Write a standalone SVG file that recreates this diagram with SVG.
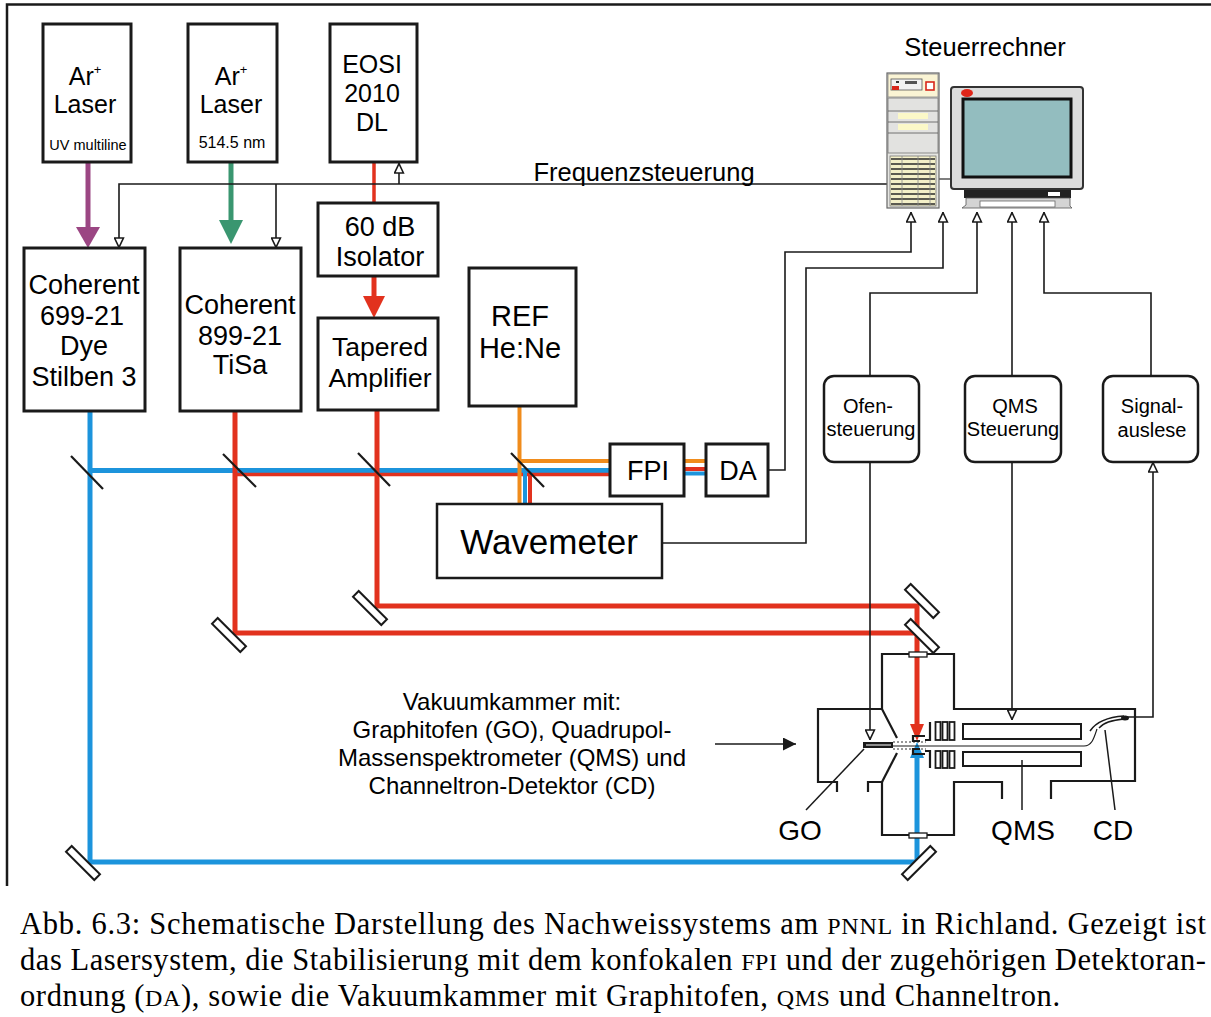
<svg xmlns="http://www.w3.org/2000/svg" width="1211" height="1017" viewBox="0 0 1211 1017">
  <style>
    .box { fill: #fff; stroke: #1a1a1a; stroke-width: 3; }
    .rbox { fill: #fff; stroke: #1a1a1a; stroke-width: 2.5; }
    .wire { fill: none; stroke: #1a1a1a; stroke-width: 1.6; }
    .sans { font-family: "Liberation Sans", Arial, sans-serif; fill: #000; text-anchor: middle; }
    .serif { font-family: "Liberation Serif", "Times New Roman", serif; fill: #000; font-size: 30.5px; }
    .sc { font-size: 24px; }
    .red { stroke: #e2321e; fill: none; }
    .blue { stroke: #1c94dc; fill: none; }
    .orange { stroke: #f08c1c; fill: none; }
    .mirror { fill: #fff; stroke: #1a1a1a; stroke-width: 2; }
    .split { stroke: #1a1a1a; stroke-width: 2.2; }
    .ch { fill: none; stroke: #1a1a1a; stroke-width: 2.2; }
  </style>
  <defs>
    <marker id="open" viewBox="0 0 10 10" refX="10" refY="5" markerWidth="11" markerHeight="11" markerUnits="userSpaceOnUse" orient="auto">
      <path d="M1,1 L9.5,5 L1,9 z" fill="#fff" stroke="#1a1a1a" stroke-width="1.4"/>
    </marker>
    <marker id="solid" viewBox="0 0 10 10" refX="10" refY="5" markerWidth="18" markerHeight="13" markerUnits="userSpaceOnUse" orient="auto">
      <path d="M0,0 L10,5 L0,10 z" fill="#1a1a1a"/>
    </marker>
  </defs>

  <!-- frame -->
  <path d="M7,886 V4.5 H1211" fill="none" stroke="#1a1a1a" stroke-width="2.5"/>

  <!-- laser beams -->
  <g id="beams">
    <!-- pump beams -->
    <line x1="88" y1="163" x2="88" y2="230" stroke="#9b4683" stroke-width="5"/>
    <polygon points="76,227 100,227 88,248" fill="#9b4683"/>
    <line x1="231" y1="163" x2="231" y2="222" stroke="#3a9670" stroke-width="5"/>
    <polygon points="219,220 243,220 231,244" fill="#3a9670"/>
    <line x1="374" y1="163" x2="374" y2="203" class="red" stroke-width="3.5"/>
    <line x1="374" y1="276" x2="374" y2="298" class="red" stroke-width="5"/>
    <polygon points="363,296 385,296 374,318" fill="#e2321e"/>

    <!-- dye laser (blue) -->
    <path d="M90,411 V862 H917 V758" class="blue" stroke-width="5"/>
    <polygon points="910,758 924,758 917,742" fill="#1c94dc"/>
    <line x1="90" y1="470.5" x2="610" y2="470.5" class="blue" stroke-width="5"/>

    <!-- TiSa (red) -->
    <path d="M235,411 V633 H917" class="red" stroke-width="5"/>
    <line x1="235" y1="474.5" x2="610" y2="474.5" class="red" stroke-width="3.5"/>

    <!-- tapered amplifier (red) -->
    <path d="M377,410 V606 H917 V725" class="red" stroke-width="5"/>
    <polygon points="910,724 924,724 917,741" fill="#e2321e"/>

    <!-- reference He:Ne (orange) -->
    <path d="M519.5,406 V504" class="orange" stroke-width="4"/>
    <line x1="519.5" y1="461" x2="610" y2="461" class="orange" stroke-width="4"/>
    <line x1="525" y1="470.5" x2="525" y2="504" class="blue" stroke-width="4"/>
    <line x1="530" y1="474.5" x2="530" y2="504" class="red" stroke-width="4"/>

    <!-- FPI to detector -->
    <line x1="684" y1="461" x2="706" y2="461" class="orange" stroke-width="4"/>
    <line x1="684" y1="469" x2="706" y2="469" class="red" stroke-width="4"/>
    <line x1="684" y1="473.5" x2="706" y2="473.5" class="blue" stroke-width="4"/>

    <!-- beam splitters -->
    <line x1="71" y1="456" x2="103" y2="489" class="split"/>
    <line x1="223" y1="454" x2="256" y2="487" class="split"/>
    <line x1="358" y1="453" x2="390" y2="486" class="split"/>
    <line x1="511" y1="453" x2="544" y2="487" class="split"/>

    <!-- mirrors -->
    <rect x="-20" y="-4" width="40" height="8" class="mirror" transform="translate(370,608) rotate(45)"/>
    <rect x="-20" y="-4" width="40" height="8" class="mirror" transform="translate(229,635) rotate(45)"/>
    <rect x="-20" y="-4" width="40" height="8" class="mirror" transform="translate(83,863) rotate(45)"/>
    <rect x="-20" y="-4" width="40" height="8" class="mirror" transform="translate(922,601) rotate(45)"/>
    <rect x="-20" y="-4" width="40" height="8" class="mirror" transform="translate(922,636) rotate(45)"/>
    <rect x="-20" y="-4" width="40" height="8" class="mirror" transform="translate(919,863) rotate(-45)"/>
  </g>

  <!-- signal and control wiring -->
  <g id="connectors">
    <path d="M887,184 H119 V248" class="wire" marker-end="url(#open)"/>
    <path d="M276,184 V248" class="wire" marker-end="url(#open)"/>
    <path d="M399,184 V163" class="wire" marker-end="url(#open)"/>
    <path d="M768,470 H785 V252 H911 V212" class="wire" marker-end="url(#open)"/>
    <path d="M662,543 H806 V268 H943 V212" class="wire" marker-end="url(#open)"/>
    <path d="M870,376 V293 H977 V212" class="wire" marker-end="url(#open)"/>
    <path d="M1012,376 V212" class="wire" marker-end="url(#open)"/>
    <path d="M1151,376 V293 H1044 V212" class="wire" marker-end="url(#open)"/>
    <path d="M870,462 V740" class="wire" marker-end="url(#open)"/>
    <path d="M1012,462 V720" class="wire" marker-end="url(#open)"/>
    <path d="M1124,717 H1153 V462" class="wire" marker-end="url(#open)"/>
    <path d="M715,744 H796" class="wire" stroke-width="2" marker-end="url(#solid)"/>
  </g>

  <!-- lasers and optics -->
  <g id="ar-uv">
    <rect x="43" y="24" width="88" height="138" class="box"/>
    <text x="85" y="85" class="sans" font-size="25">Ar<tspan dy="-11" font-size="13">+</tspan></text>
    <text x="85" y="113" class="sans" font-size="25">Laser</text>
    <text x="88" y="150" class="sans" font-size="14.5">UV multiline</text>
  </g>
  <g id="ar-green">
    <rect x="188" y="24" width="89" height="138" class="box"/>
    <text x="231" y="85" class="sans" font-size="25">Ar<tspan dy="-11" font-size="13">+</tspan></text>
    <text x="231" y="113" class="sans" font-size="25">Laser</text>
    <text x="232" y="148" class="sans" font-size="16">514.5 nm</text>
  </g>
  <g id="eosi">
    <rect x="330" y="24" width="87" height="138" class="box"/>
    <text x="372" y="73" class="sans" font-size="25">EOSI</text>
    <text x="372" y="102" class="sans" font-size="25">2010</text>
    <text x="372" y="131" class="sans" font-size="25">DL</text>
  </g>
  <g id="isolator">
    <rect x="318" y="203" width="120" height="73" class="box"/>
    <text x="380" y="236" class="sans" font-size="27">60 dB</text>
    <text x="380" y="266" class="sans" font-size="27">Isolator</text>
  </g>
  <g id="tapered">
    <rect x="318" y="318" width="120" height="92" class="box"/>
    <text x="380" y="356" class="sans" font-size="26.5">Tapered</text>
    <text x="380" y="387" class="sans" font-size="26.5">Amplifier</text>
  </g>
  <g id="dye">
    <rect x="24" y="248" width="121" height="163" class="box"/>
    <text x="84" y="294" class="sans" font-size="27">Coherent</text>
    <text x="82" y="325" class="sans" font-size="27">699-21</text>
    <text x="84" y="355" class="sans" font-size="27">Dye</text>
    <text x="84" y="386" class="sans" font-size="27">Stilben 3</text>
  </g>
  <g id="tisa">
    <rect x="180" y="248" width="121" height="163" class="box"/>
    <text x="240" y="314" class="sans" font-size="27">Coherent</text>
    <text x="240" y="345" class="sans" font-size="27">899-21</text>
    <text x="240" y="374" class="sans" font-size="27">TiSa</text>
  </g>
  <g id="ref">
    <rect x="469" y="268" width="107" height="138" class="box"/>
    <text x="520" y="326" class="sans" font-size="29">REF</text>
    <text x="520" y="358" class="sans" font-size="29">He:Ne</text>
  </g>
  <g id="fpi">
    <rect x="610" y="444" width="74" height="52" class="box"/>
    <text x="648" y="480" class="sans" font-size="27">FPI</text>
  </g>
  <g id="da">
    <rect x="706" y="444" width="62" height="52" class="box"/>
    <text x="738" y="480" class="sans" font-size="27">DA</text>
  </g>
  <g id="wavemeter">
    <rect x="437" y="504" width="225" height="74" class="rbox" stroke-width="2"/>
    <text x="549" y="554" class="sans" font-size="35">Wavemeter</text>
  </g>

  <!-- control units -->
  <g id="ofen">
    <rect x="824" y="376" width="95" height="86" rx="10" class="rbox"/>
    <text x="868" y="413" class="sans" font-size="20">Ofen-</text>
    <text x="871" y="436" class="sans" font-size="20">steuerung</text>
  </g>
  <g id="qms-ctrl">
    <rect x="965" y="376" width="96" height="86" rx="10" class="rbox"/>
    <text x="1015" y="413" class="sans" font-size="20">QMS</text>
    <text x="1013" y="436" class="sans" font-size="20">Steuerung</text>
  </g>
  <g id="signal">
    <rect x="1103" y="376" width="95" height="86" rx="10" class="rbox"/>
    <text x="1152" y="413" class="sans" font-size="20">Signal-</text>
    <text x="1152" y="437" class="sans" font-size="20">auslese</text>
  </g>

  <!-- control computer -->
  <g id="rechner">
    <text x="985" y="56" class="sans" font-size="25.5">Steuerrechner</text>
    <line x1="939" y1="179" x2="951" y2="179" stroke="#555" stroke-width="1.5"/>
    <rect x="887" y="73" width="52" height="135" fill="#e6e6e2" stroke="#666" stroke-width="1.2"/>
    <rect x="888" y="74" width="50" height="23" fill="#faf4d4" stroke="#888" stroke-width="0.8"/>
    <rect x="891" y="79" width="31" height="11" fill="#f2f2f2" stroke="#555" stroke-width="0.8"/>
    <rect x="892" y="86" width="7" height="4" fill="#d8261a"/>
    <rect x="896" y="81" width="3" height="2" fill="#333"/>
    <rect x="905" y="81" width="12" height="3" fill="#555"/>
    <rect x="926" y="82" width="8" height="8" fill="#fff" stroke="#d8261a" stroke-width="1.6"/>
    <rect x="888" y="98" width="50" height="55" fill="#e2e2e0" stroke="#777" stroke-width="0.8"/>
    <line x1="888" y1="111" x2="938" y2="111" stroke="#555" stroke-width="0.8"/>
    <line x1="888" y1="122" x2="938" y2="122" stroke="#555" stroke-width="0.8"/>
    <line x1="888" y1="133" x2="938" y2="133" stroke="#555" stroke-width="0.8"/>
    <rect x="898" y="113" width="30" height="6" fill="#fbf8c8"/>
    <rect x="898" y="124" width="30" height="6" fill="#fbf8c8"/>
    <rect x="890" y="156" width="46" height="50" fill="#f4f0c8" stroke="#777" stroke-width="0.8"/>
    <g stroke="#2a2a2a" stroke-width="1.6">
      <line x1="891" y1="159" x2="935" y2="159"/>
      <line x1="891" y1="164" x2="935" y2="164"/>
      <line x1="891" y1="169" x2="935" y2="169"/>
      <line x1="891" y1="174" x2="935" y2="174"/>
      <line x1="891" y1="179" x2="935" y2="179"/>
      <line x1="891" y1="184" x2="935" y2="184"/>
      <line x1="891" y1="189" x2="935" y2="189"/>
      <line x1="891" y1="194" x2="935" y2="194"/>
      <line x1="891" y1="199" x2="935" y2="199"/>
      <line x1="891" y1="204" x2="935" y2="204"/>
    </g>
    <g stroke="#888" stroke-width="0.8">
      <line x1="902" y1="156" x2="902" y2="206"/>
      <line x1="918" y1="156" x2="918" y2="206"/>
      <line x1="930" y1="156" x2="930" y2="206"/>
    </g>
    <rect x="951" y="87" width="132" height="102" rx="3" fill="#dcdcdc" stroke="#333" stroke-width="2"/>
    <rect x="963" y="99" width="108" height="78" fill="#93bdbf" stroke="#111" stroke-width="3"/>
    <ellipse cx="967" cy="93" rx="6" ry="4" fill="#e0261a"/>
    <rect x="964" y="190" width="107" height="8" fill="#222"/>
    <rect x="1048" y="192" width="12" height="4" fill="#fff"/>
    <path d="M966,198 H1070 V206 L1072,208 H962 L966,205 Z" fill="#d4d4d4" stroke="#555" stroke-width="0.8"/>
    <rect x="980" y="201" width="75" height="6" fill="#fff" stroke="#666" stroke-width="0.8"/>
  </g>

  <!-- vacuum chamber -->
  <g id="kammer">
    <path class="ch" d="M882,709 V654 H954 V709 H1135 V781 H1051 V799"/>
    <path class="ch" d="M1002,799 V782 H954 V835 H882 V782 H868 V792"/>
    <path class="ch" d="M837,792 V782 H818 V709 H882 L897,738"/>
    <path class="ch" d="M897,753 L882,782"/>
    <rect x="909" y="652" width="18" height="5" fill="#fff" stroke="#1a1a1a" stroke-width="1.3"/>
    <rect x="909" y="833" width="18" height="5" fill="#fff" stroke="#1a1a1a" stroke-width="1.3"/>
    <!-- graphite oven -->
    <rect x="863" y="742" width="30" height="6" fill="#1a1a1a"/>
    <line x1="866" y1="745" x2="891" y2="745" stroke="#fff" stroke-width="1"/>
    <!-- extraction and ion optics -->
    <path class="ch" stroke-width="1.8" d="M925,736 H913 V741 H920 M925,754 H913 V749 H920"/>
    <path class="ch" stroke-width="1.8" d="M925,740 H930 V722 M925,751 H930 V768"/>
    <g fill="#fff" stroke="#1a1a1a" stroke-width="1.8">
      <rect x="935.5" y="722" width="5" height="18"/>
      <rect x="942.5" y="722" width="5" height="18"/>
      <rect x="949.5" y="722" width="5" height="18"/>
      <rect x="935.5" y="751" width="5" height="17"/>
      <rect x="942.5" y="751" width="5" height="17"/>
      <rect x="949.5" y="751" width="5" height="17"/>
      <!-- quadrupole rods -->
      <rect x="963" y="724" width="118" height="15" stroke-width="2"/>
      <rect x="963" y="752" width="118" height="14" stroke-width="2"/>
    </g>
    <!-- ion trajectory -->
    <path d="M893,746 H1084 C1092,746 1094,738 1097,729" fill="none" stroke="#1a1a1a" stroke-width="1.2"/>
    <path d="M893,742 H926 M893,749 H926" fill="none" stroke="#1a1a1a" stroke-width="0.9" stroke-dasharray="2 2"/>
    <!-- channeltron -->
    <path d="M1090,731 C1096,722 1108,717 1124,716" fill="none" stroke="#1a1a1a" stroke-width="1.5"/>
    <path d="M1099,728 C1104,722 1112,720 1124,719" fill="none" stroke="#1a1a1a" stroke-width="1.3"/>
    <ellipse cx="1125" cy="718" rx="4" ry="2.5" fill="#1a1a1a"/>
    <!-- leaders -->
    <line x1="864" y1="749" x2="806" y2="810" stroke="#1a1a1a" stroke-width="1.5"/>
    <line x1="1022" y1="760" x2="1022" y2="810" stroke="#1a1a1a" stroke-width="1.5"/>
    <line x1="1105" y1="730" x2="1115" y2="810" stroke="#1a1a1a" stroke-width="1.5"/>
    <text x="800" y="840" class="sans" font-size="28">GO</text>
    <text x="1023" y="840" class="sans" font-size="28">QMS</text>
    <text x="1113" y="840" class="sans" font-size="28">CD</text>
  </g>

  <!-- labels -->
  <text x="644" y="181" class="sans" font-size="25.5">Frequenzsteuerung</text>
  <g class="sans" font-size="24">
    <text x="512" y="710">Vakuumkammer mit:</text>
    <text x="512" y="738">Graphitofen (GO), Quadrupol-</text>
    <text x="512" y="766">Massenspektrometer (QMS) und</text>
    <text x="512" y="794">Channeltron-Detektor (CD)</text>
  </g>

  <!-- caption -->
  <text x="20" y="934" class="serif" textLength="1186" lengthAdjust="spacing">Abb. 6.3: Schematische Darstellung des Nachweissystems am <tspan class="sc">PNNL</tspan> in Richland. Gezeigt ist</text>
  <text x="20" y="970" class="serif" textLength="1186" lengthAdjust="spacing">das Lasersystem, die Stabilisierung mit dem konfokalen <tspan class="sc">FPI</tspan> und der zugehörigen Detektoran-</text>
  <text x="20" y="1006" class="serif" textLength="1040" lengthAdjust="spacing">ordnung (<tspan class="sc">DA</tspan>), sowie die Vakuumkammer mit Graphitofen, <tspan class="sc">QMS</tspan> und Channeltron.</text>
</svg>
